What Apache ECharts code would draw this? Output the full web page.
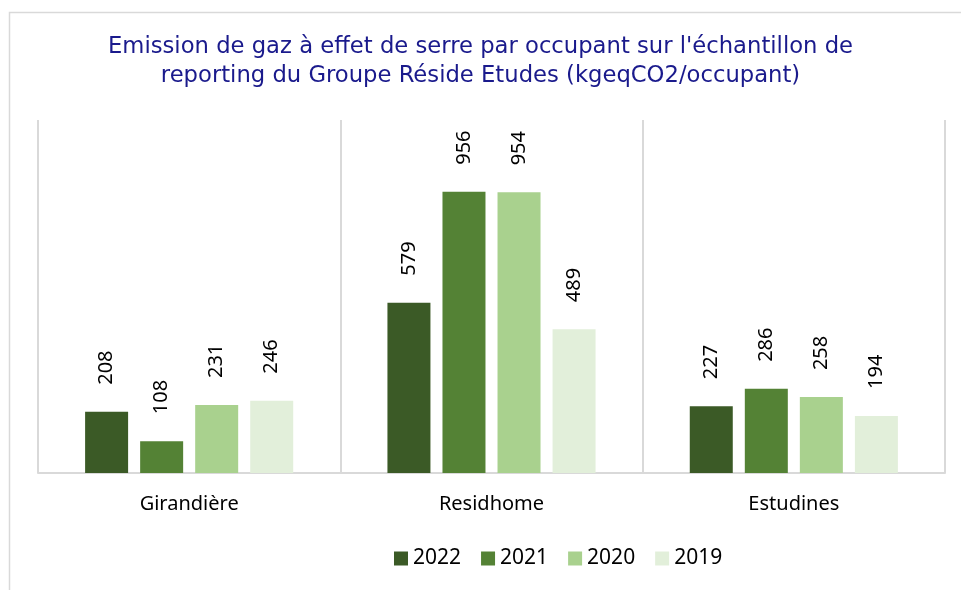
<!DOCTYPE html>
<html>
<head>
<meta charset="utf-8">
<script src="https://cdn.jsdelivr.net/npm/echarts@6/dist/echarts.min.js"></script>
<style>
  html, body { margin: 0; padding: 0; background: #fff; }
  #main { width: 961px; height: 590px; }
</style>
</head>
<body>
<div id="main"></div>
<script>
// données
var categories = ['Girandière', 'Residhome', 'Estudines'];
var years = ['2022', '2021', '2020', '2019'];
var v2022 = [208, 579, 227];
var v2021 = [108, 956, 286];
var v2020 = [231, 954, 258];
var v2019 = [246, 489, 194];
var colors = ['#3b5a26', '#548235', '#a9d18e', '#e2efda'];

var seriesData = [v2022, v2021, v2020, v2019];

var chart = echarts.init(document.getElementById('main'));

var series = years.map(function (y, i) {
    return {
        name: y,
        type: 'bar',
        data: seriesData[i],
        barWidth: 43,
        barGap: '28%',
        itemStyle: { color: colors[i] },
        label: {
            show: true,
            position: 'top',
            rotate: 90,
            align: 'left',
            verticalAlign: 'middle',
            distance: 27,
            color: '#000',
            fontFamily: 'Noto Sans',
            fontSize: 20
        }
    };
});

option = {
    backgroundColor: '#fff',
    animation: false,
    color: colors,
    title: {
        text: "Emission de gaz à effet de serre par occupant sur l'échantillon de\nreporting du Groupe Réside Etudes (kgeqCO2/occupant)",
        left: 'center',
        top: 28,
        textStyle: {
            color: '#1a1a8c',
            fontFamily: 'DejaVu Sans',
            fontWeight: 'normal',
            fontSize: 22.7,
            lineHeight: 29
        }
    },
    legend: {
        data: years,
        top: 543,
        left: 389,
        icon: 'rect',
        itemWidth: 14,
        itemHeight: 14,
        itemGap: 20,
        textStyle: {
            color: '#000',
            fontFamily: 'Noto Sans',
            fontSize: 21
        }
    },
    graphic: [{
        type: 'rect',
        shape: { x: 9.5, y: 12.5, width: 1000, height: 1000 },
        style: { fill: 'none', stroke: '#d9d9d9', lineWidth: 1.5 },
        silent: true
    }],
    grid: {
        left: 38,
        right: 16,
        top: 120,
        bottom: 117
    },
    xAxis: {
        type: 'category',
        data: categories,
        axisLine: { lineStyle: { color: '#d9d9d9', width: 2 } },
        axisTick: { show: false },
        splitLine: { show: true, lineStyle: { color: '#d9d9d9', width: 2 } },
        axisLabel: {
            color: '#000',
            fontFamily: 'Noto Sans',
            fontSize: 20,
            margin: 21
        }
    },
    yAxis: {
        type: 'value',
        show: false,
        min: 0,
        max: 1200
    },
    series: series
};

chart.setOption(option);
</script>
</body>
</html>
